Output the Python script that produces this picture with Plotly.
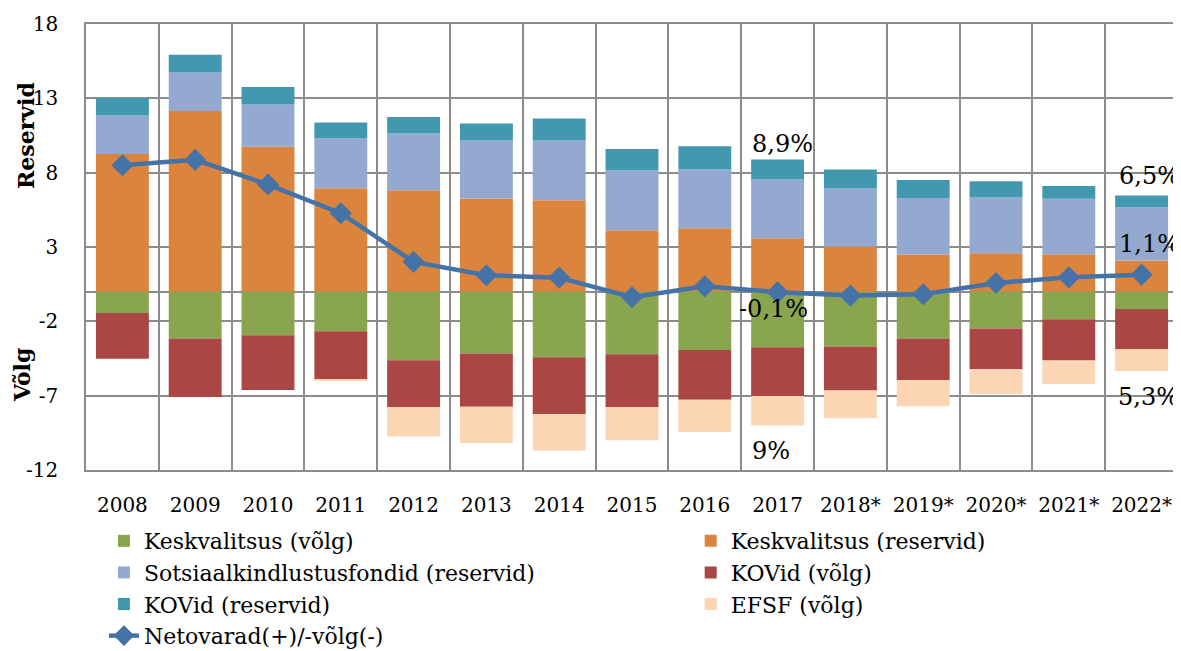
import plotly.graph_objects as go

# values
years = ['2008', '2009', '2010', '2011', '2012', '2013', '2014', '2015', '2016', '2017',
         '2018*', '2019*', '2020*', '2021*', '2022*']
kesk_volg = [-1.44, -3.16, -2.94, -2.67, -4.62, -4.17, -4.42, -4.22, -3.93, -3.75,
             -3.70, -3.16, -2.49, -1.86, -1.17]
kesk_res = [9.26, 12.14, 9.74, 6.95, 6.82, 6.26, 6.15, 4.13, 4.26, 3.59,
            3.03, 2.49, 2.58, 2.51, 2.09]
sots_res = [2.58, 2.60, 2.84, 3.35, 3.81, 3.90, 4.01, 4.01, 3.95, 3.95,
            3.90, 3.81, 3.75, 3.73, 3.56]
kov_volg = [-3.07, -3.93, -3.68, -3.23, -3.14, -3.57, -3.81, -3.54, -3.34, -3.27,
            -2.96, -2.81, -2.74, -2.78, -2.69]
kov_res = [1.19, 1.19, 1.19, 1.07, 1.12, 1.15, 1.48, 1.46, 1.57, 1.34,
           1.28, 1.21, 1.09, 0.87, 0.81]
efsf_volg = [0, 0, 0, -0.07, -1.98, -2.44, -2.45, -2.24, -2.17, -1.98,
             -1.86, -1.75, -1.66, -1.57, -1.48]
netovarad = [8.50, 8.86, 7.20, 5.27, 2.00, 1.10, 0.94, -0.38, 0.36, -0.04,
             -0.27, -0.18, 0.58, 0.96, 1.14]

y_ticks = [-12, -7, -2, 3, 8, 13, 18]

# percentage call-outs
label_2017 = ['8,9%', '-0,1%', '9%']
label_2022 = ['6,5%', '1,1%', '5,3%']

FONT = 'DejaVu Serif'

fig = go.Figure()

# (name, values, colour, legend column)
bars = [
    ('Keskvalitsus (võlg)', kesk_volg, '#89A54E', 'legend'),
    ('Keskvalitsus (reservid)', kesk_res, '#DB843D', 'legend2'),
    ('Sotsiaalkindlustusfondid (reservid)', sots_res, '#93A9CF', 'legend'),
    ('KOVid (võlg)', kov_volg, '#AA4643', 'legend2'),
    ('KOVid (reservid)', kov_res, '#4198AF', 'legend'),
    ('EFSF (võlg)', efsf_volg, '#FCD5B5', 'legend2'),
]
for name, vals, col, leg in bars:
    fig.add_trace(go.Bar(x=years, y=vals, name=name, marker_color=col,
                         marker_line_width=0, legend=leg))

fig.add_trace(go.Scatter(x=years, y=netovarad, name='Netovarad(+)/-võlg(-)',
                         mode='lines+markers', legend='legend',
                         line=dict(color='#4572A7', width=4.5),
                         marker=dict(symbol='diamond', size=17, color='#4572A7')))

# stack extents used to place the call-outs
tops = [a + b + c for a, b, c in zip(kesk_res, sots_res, kov_res)]
bottoms = [a + b + c for a, b, c in zip(kesk_volg, kov_volg, efsf_volg)]
# category index (a plain '2017' string would be read as a number)
i17 = years.index('2017')
i22 = years.index('2022*')

ann_font = dict(family=FONT, size=24, color='black')
annotations = [
    dict(x=i17, y=tops[i17], text=label_2017[0], yanchor='bottom', yshift=0, xshift=5),
    dict(x=i17, y=netovarad[i17], text=label_2017[1], yanchor='top', yshift=-1, xshift=-4),
    dict(x=i17, y=bottoms[i17], text=label_2017[2], yanchor='top', yshift=-10, xshift=-7),
    dict(x=i22, y=tops[i22], text=label_2022[0], yanchor='bottom', yshift=4, xshift=8),
    dict(x=i22, y=netovarad[i22], text=label_2022[1], yanchor='bottom', yshift=15, xshift=8),
    dict(x=i22, y=bottoms[i22], text=label_2022[2], yanchor='top', yshift=-10, xshift=7),
]
for a in annotations:
    a.update(xref='x', yref='y', showarrow=False, font=ann_font, xanchor='center')

# axis titles drawn as rotated text
title_font = dict(family=FONT, size=22, color='black')
annotations += [
    dict(x=-0.055, y=0.751, xref='paper', yref='paper', text='<b>Reservid</b>',
         xanchor='center', yanchor='middle', textangle=-90, showarrow=False, font=title_font),
    dict(x=-0.058, y=0.212, xref='paper', yref='paper', text='<b>Võlg</b>',
         xanchor='center', yanchor='middle', textangle=-90, showarrow=False, font=title_font),
]

grid = '#8C8C8C'
leg_common = dict(orientation='v', xref='container', yref='container',
                  xanchor='left', yanchor='top', traceorder='normal',
                  font=dict(family=FONT, size=22), bgcolor='rgba(0,0,0,0)')
# page body has an 8px margin, so the figure is sized to fit the window
fig.update_layout(
    width=1173, height=643,
    margin=dict(l=78, r=3, t=16, b=180.5, autoexpand=False),
    barmode='relative', bargap=0.273,
    plot_bgcolor='white', paper_bgcolor='white',
    font=dict(family=FONT, size=20, color='black'),
    xaxis=dict(type='category', tickson='boundaries', range=[-0.5, 14.5],
               showgrid=True, gridcolor=grid, gridwidth=1.5, automargin=False,
               showline=True, linecolor=grid, linewidth=1.5, mirror=True,
               ticks='', ticklabelstandoff=16, tickfont=dict(size=20)),
    yaxis=dict(range=[-12, 18], tickvals=y_ticks, ticktext=[str(v) for v in y_ticks],
               automargin=False,
               showgrid=True, gridcolor=grid, gridwidth=1.5,
               zeroline=True, zerolinecolor=grid, zerolinewidth=1.5,
               showline=True, linecolor=grid, linewidth=1.5, mirror=True,
               ticks='', ticklabelstandoff=22, tickfont=dict(size=20)),
    legend=dict(x=0.0818, y=0.2037, **leg_common),
    legend2=dict(x=0.582, y=0.2037, **leg_common),
    annotations=annotations,
)

fig.write_html("out.html")
